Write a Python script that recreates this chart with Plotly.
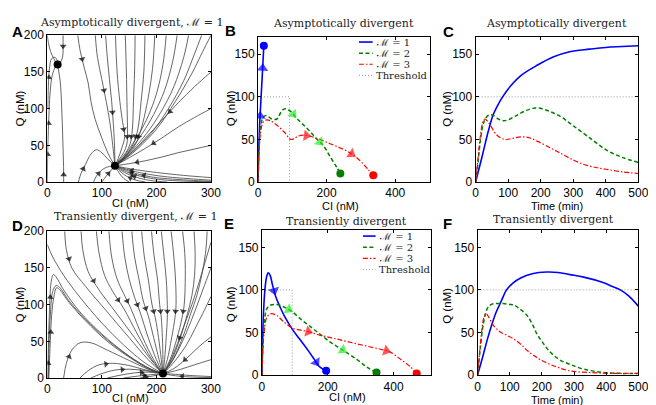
import plotly.graph_objects as go

W, H = 656, 405

# ---------------- data ----------------
# Panel A: phase portrait streamlines (CI, Q), arrows = segment indices
A_FIXED_CI = [19, 124]
A_FIXED_Q = [160, 22]
A_CURVES = [
    ([0, 0.5, 1, 2, 3, 5, 9, 15, 19], [0, 25, 50, 70, 90, 120, 145, 157, 160], [1, 3]),
    ([1, 2, 4, 8, 14, 18, 19], [100, 130, 155, 168, 170, 166, 160], [1]),
    ([29, 29, 29, 28, 24, 19], [200, 190, 180, 170, 163, 160], [1]),
    ([30, 30, 30, 29, 27, 24, 19], [0, 5, 15, 45, 90, 135, 160], [1]),
    ([0, 2, 6, 12, 19], [200, 190, 178, 168, 160], []),
    ([56, 60, 68, 75, 80, 88, 100, 112, 124], [200, 180, 155, 135, 110, 85, 60, 38, 22], [1]),
    ([88, 92, 100, 108, 115, 120, 124], [200, 170, 140, 110, 80, 50, 22], [2]),
    ([107, 110, 114, 118, 121, 123, 124], [200, 170, 140, 110, 80, 55, 22], [3]),
    ([125, 128, 133, 138, 142, 136, 130, 124], [200, 150, 110, 82, 62, 45, 32, 22], [3]),
    ([143, 145, 146, 147, 146, 140, 131, 124], [200, 150, 110, 72, 52, 40, 30, 22], [3]),
    ([161, 160, 158, 156, 152, 144, 133, 124], [200, 150, 110, 72, 52, 40, 30, 22], [3]),
    ([179, 177, 172, 166, 158, 148, 135, 124], [200, 150, 110, 72, 52, 40, 30, 22], [3]),
    ([197, 193, 185, 172, 162, 150, 136, 124], [200, 155, 115, 72, 52, 40, 30, 22], [3]),
    ([218, 212, 200, 185, 170, 152, 137, 124], [200, 160, 120, 90, 68, 47, 31, 22], []),
    ([238, 230, 215, 195, 175, 155, 138, 124], [200, 165, 125, 92, 67, 46, 31, 22], []),
    ([259, 250, 232, 208, 182, 158, 139, 124], [200, 170, 130, 95, 66, 45, 31, 22], []),
    ([283, 270, 250, 222, 190, 160, 140, 124], [200, 175, 138, 100, 66, 44, 31, 22], []),
    ([300, 285, 265, 235, 200, 165, 142, 124], [200, 178, 148, 110, 72, 45, 31, 22], []),
    ([300, 270, 240, 210, 180, 155, 124], [150, 130, 108, 84, 60, 40, 22], [2]),
    ([300, 270, 240, 210, 180, 150, 124], [100, 88, 75, 60, 46, 33, 22], [3]),
    ([300, 270, 240, 210, 180, 150, 124], [50, 45, 40, 34, 29, 25, 22], [4]),
    ([300, 260, 220, 190, 165, 145, 124], [0.3, 1, 2.5, 5, 9, 14, 22], [4]),
    ([300, 260, 220, 190, 165, 145, 124], [1, 2.5, 4.5, 7, 11, 16, 22], [3]),
    ([300, 260, 220, 190, 165, 145, 124], [2.5, 4.5, 7, 10, 13.5, 17.5, 22], [4]),
    ([300, 250, 200, 160, 124], [6, 9, 13, 17, 22], []),
    ([220, 190, 170, 150, 135, 124], [0, 2, 5, 10, 16, 22], [2]),
    ([180, 160, 145, 133, 124], [0, 3, 8, 15, 22], [1]),
    ([150, 140, 132, 124], [0, 5, 12, 22], []),
    ([57, 62, 70, 80, 90, 100, 110, 124], [0, 12, 24, 38, 44, 40, 32, 22], [1]),
    ([85, 90, 98, 108, 124], [0, 8, 15, 20, 22], [1]),
    ([100, 108, 116, 124], [0, 8, 15, 22], [1]),
]

# Panel D: phase portrait streamlines
D_FIXED_CI = [212]
D_FIXED_Q = [6]
D_CURVES = [
    ([32, 35, 45, 70, 110, 150, 185, 212], [200, 175, 150, 125, 90, 55, 25, 6], [1]),
    ([62, 65, 75, 95, 125, 160, 190, 212], [200, 175, 145, 120, 90, 55, 25, 6], [2]),
    ([90, 95, 105, 120, 140, 165, 192, 212], [200, 170, 140, 118, 95, 60, 25, 6], [3]),
    ([113, 118, 128, 140, 153, 175, 195, 212], [200, 165, 135, 115, 95, 55, 25, 6], [3]),
    ([137, 142, 150, 160, 170, 185, 200, 212], [200, 165, 135, 110, 90, 55, 25, 6], [3]),
    ([155, 160, 168, 176, 185, 195, 205, 212], [200, 165, 135, 105, 85, 55, 25, 6], [3]),
    ([173, 178, 185, 192, 198, 204, 209, 212], [200, 165, 135, 100, 82, 55, 25, 6], [3]),
    ([191, 196, 202, 206, 209, 211, 212, 212], [200, 165, 135, 100, 82, 55, 25, 6], [3]),
    ([209, 214, 218, 220, 220, 218, 215, 212], [200, 165, 135, 100, 82, 55, 25, 6], [3]),
    ([227, 232, 235, 236, 234, 228, 220, 212], [200, 165, 135, 100, 82, 55, 25, 6], [3]),
    ([248, 252, 253, 251, 247, 238, 225, 212], [200, 170, 140, 100, 82, 55, 25, 6], [3]),
    ([269, 271, 270, 265, 257, 244, 228, 212], [200, 170, 140, 112, 88, 55, 25, 6], []),
    ([293, 290, 283, 274, 263, 248, 230, 212], [200, 170, 140, 112, 88, 55, 25, 6], []),
    ([300, 290, 278, 265, 250, 235, 222, 212], [185, 160, 130, 100, 70, 40, 18, 6], [4]),
    ([300, 285, 270, 255, 240, 225, 212], [150, 120, 90, 62, 38, 18, 6], []),
    ([300, 285, 270, 255, 238, 222, 212], [111, 88, 66, 45, 27, 13, 6], []),
    ([300, 280, 260, 245, 230, 212], [56, 44, 30, 20, 12, 6], [2]),
    ([300, 270, 245, 225, 212], [25, 18, 12, 8, 6], []),
    ([300, 260, 235, 212], [0.5, 1.5, 3, 6], [1]),
    ([300, 260, 235, 212], [2, 3.5, 5, 6], []),
    ([0, 10, 30, 60, 100, 140, 180, 212], [182, 165, 140, 110, 75, 45, 20, 6], []),
    ([1, 2, 4, 7, 11, 16, 30, 60, 100, 150, 190, 212], [0, 40, 90, 130, 141, 138, 120, 90, 60, 30, 12, 6], [0, 2]),
    ([2, 3, 6, 10, 16, 22, 40, 70, 110, 155, 190, 212], [0, 40, 90, 118, 126, 124, 105, 80, 52, 27, 12, 6], []),
    ([3, 5, 8, 12, 17, 22, 40, 70, 110, 155, 190, 212], [0, 40, 85, 110, 123, 121, 103, 78, 50, 26, 11, 6], [1]),
    ([30, 35, 45, 60, 80, 110, 150, 185, 212], [0, 20, 38, 48, 48, 38, 24, 12, 6], [1]),
    ([60, 75, 95, 120, 150, 180, 212], [0, 10, 18, 20, 17, 11, 6], [2]),
    ([80, 100, 125, 150, 180, 212], [0, 6, 11, 12, 10, 6], [2]),
    ([110, 135, 160, 185, 212], [0, 4, 7, 8, 6], [2]),
    ([140, 165, 190, 212], [0, 2.5, 4.5, 6], [1]),
    ([170, 192, 212], [0, 2.5, 6], [0]),
]

# Panel B: trajectories in (CI, Q)
B_M1_CI = [0, 2, 5, 7, 9, 12, 15, 17]
B_M1_Q = [0, 35, 70, 85, 100, 122, 145, 160]
B_M1_ARROWS = [2, 5]
B_M2_CI = [0, 3, 8, 15, 25, 40, 55, 70, 80, 95, 110, 130, 150, 170, 190, 210, 230, 240]
B_M2_Q = [0, 40, 65, 76, 78, 74, 74, 84, 86, 83, 76, 68, 60, 51, 43, 30, 17, 10]
B_M2_ARROWS = [9, 13]
B_M3_CI = [0, 3, 8, 15, 25, 40, 60, 80, 95, 105, 118, 132, 150, 180, 210, 240, 265, 280, 300, 320, 336]
B_M3_Q = [0, 35, 60, 70, 73, 71, 65, 57, 50, 51, 54, 55, 54, 50, 45, 40, 35, 31, 24, 15, 8]
B_M3_ARROWS = [11, 16]

# Panel E
E_M1_CI = [0, 2, 5, 9, 14, 19, 25, 32, 42, 55, 70, 92, 115, 140, 158, 172, 185, 195]
E_M1_Q = [0, 40, 75, 100, 115, 120, 117, 106, 92, 80, 68, 54, 42, 29, 19, 11, 7, 5]
E_M1_ARROWS = [7, 14]
E_M2_CI = [0, 3, 8, 15, 25, 37, 55, 72, 90, 120, 150, 180, 210, 235, 255, 290, 320, 348]
E_M2_Q = [0, 35, 65, 78, 82, 83, 82, 79, 75, 65, 56, 47, 38, 32, 27, 18, 9, 3]
E_M2_ARROWS = [7, 13]
E_M3_CI = [0, 3, 8, 15, 27, 45, 65, 94, 115, 131, 150, 175, 220, 274, 330, 365, 390, 423, 450, 470]
E_M3_Q = [0, 30, 55, 68, 72, 70, 63, 55, 53, 52, 50, 47, 43, 38, 33, 30, 27, 18, 10, 2]
E_M3_ARROWS = [9, 15]

THRESH_CI = 92
THRESH_Q = 100

# Panel C: time courses
C_M1_T = [0, 10, 20, 30, 40, 53, 65, 83, 108, 139, 189, 240, 289, 350, 400, 450, 500]
C_M1_Q = [0, 15, 30, 46, 61, 78, 88, 100, 113, 125, 137, 147, 153, 156, 158, 159, 160]
C_M2_T = [0, 8, 15, 25, 35, 45, 55, 70, 85, 100, 125, 150, 184, 220, 260, 300, 350, 400, 450, 500]
C_M2_Q = [0, 25, 50, 70, 77, 79, 78, 74, 72, 73, 78, 83, 87, 84, 77, 66, 52, 38, 29, 23]
C_M3_T = [0, 8, 15, 22, 28, 35, 45, 63, 88, 110, 139, 165, 189, 230, 260, 289, 330, 370, 400, 450, 500]
C_M3_Q = [0, 30, 55, 70, 74, 72, 67, 56, 50, 51, 53, 52, 48, 40, 34, 28, 21, 17, 15, 12, 10]

# Panel F
F_M1_T = [0, 15, 32, 45, 58, 75, 90, 110, 134, 170, 215, 250, 287, 330, 388, 420, 444, 470, 500]
F_M1_Q = [0, 20, 44, 60, 74, 88, 100, 108, 114, 119, 121, 120.5, 118, 115, 109, 104, 100, 93, 81]
F_M2_T = [0, 8, 18, 30, 43, 60, 80, 100, 114, 130, 154, 170, 185, 205, 226, 255, 287, 330, 388, 450, 500]
F_M2_Q = [0, 30, 60, 78, 83, 84, 84, 83, 82, 78, 70, 60, 48, 37, 27, 18, 12.6, 7, 3.3, 2, 2]
F_M3_T = [0, 6, 14, 20, 27, 35, 48, 60, 73, 95, 114, 135, 154, 175, 195, 236, 287, 350, 420, 500]
F_M3_Q = [0, 25, 55, 68, 72, 68, 59, 54, 50, 46, 42, 36, 29, 23, 18, 11, 5, 3, 2, 2]

LEGEND_LABELS = ["ℳ = 1", "ℳ = 2", "ℳ = 3", "Threshold"]

# ---------------- style ----------------
BLUE, GREEN, RED = "#0000ff", "#008000", "#ff0000"
ARROW_COL = {"b": "#0000ff", "g": "#22ee22", "r": "#ff1010"}
DASH_G = "4px,2.5px"
DASH_R = "5px,2px,1.5px,2px"
DOT = "1px,2px"
GRAYLINE = "#404040"
SANS = "Liberation Sans, Arial, sans-serif"
SERIF = "DejaVu Serif, Liberation Serif, serif"

# panel boxes in pixels: (x0, x1), (y0, y1) top-down
BOX = {
    "A": ((37, 204), (21, 173)),
    "B": ((252, 427), (23, 173)),
    "C": ((474, 640), (23, 173)),
    "D": ((37, 204), (224, 376)),
    "E": ((256, 429), (223, 373)),
    "F": ((476, 640), (223, 373)),
}
AX = {"A": "", "B": "2", "C": "3", "D": "4", "E": "5", "F": "6"}


def px(x):
    return x / W


def py(y):
    return 1 - y / H


fig = go.Figure()


def add_line(panel, xs, ys, color, width, dash="solid", shape="spline"):
    n = AX[panel]
    fig.add_trace(go.Scatter(x=xs, y=ys, mode="lines", xaxis="x" + n, yaxis="y" + n,
                             line=dict(color=color, width=width, dash=dash, shape=shape, smoothing=1),
                             hoverinfo="skip", showlegend=False))


def add_arrows(panel, segs_list, color, size):
    n = AX[panel]
    xs, ys, ss = [], [], []
    for cx, cy, segs in segs_list:
        for k in segs:
            xs += [cx[k], (cx[k] + cx[k + 1]) / 2]
            ys += [cy[k], (cy[k] + cy[k + 1]) / 2]
            ss += [0, size]
    if xs:
        fig.add_trace(go.Scatter(x=xs, y=ys, mode="markers", xaxis="x" + n, yaxis="y" + n,
                                 marker=dict(symbol="triangle-up", size=ss, color=color,
                                             angleref="previous", line=dict(width=0)),
                                 hoverinfo="skip", showlegend=False))


def add_dots(panel, xs, ys, color, size):
    n = AX[panel]
    fig.add_trace(go.Scatter(x=xs, y=ys, mode="markers", xaxis="x" + n, yaxis="y" + n,
                             marker=dict(symbol="circle", size=size, color=color, line=dict(width=0)),
                             hoverinfo="skip", showlegend=False))


# phase portraits
for panel, curves, fx, fy in (("A", A_CURVES, A_FIXED_CI, A_FIXED_Q), ("D", D_CURVES, D_FIXED_CI, D_FIXED_Q)):
    for cx, cy, _ in curves:
        add_line(panel, cx, cy, GRAYLINE, 0.8)
    add_arrows(panel, curves, "black", 6)
    add_dots(panel, fx, fy, "black", 8)

# trajectories B and E
for panel, data in (
    ("B", [(B_M1_CI, B_M1_Q, B_M1_ARROWS), (B_M2_CI, B_M2_Q, B_M2_ARROWS), (B_M3_CI, B_M3_Q, B_M3_ARROWS)]),
    ("E", [(E_M1_CI, E_M1_Q, E_M1_ARROWS), (E_M2_CI, E_M2_Q, E_M2_ARROWS), (E_M3_CI, E_M3_Q, E_M3_ARROWS)]),
):
    add_line(panel, [0, THRESH_CI, THRESH_CI], [THRESH_Q, THRESH_Q, 0], "#999999", 1, DOT, "linear")
    (x1, y1, a1), (x2, y2, a2), (x3, y3, a3) = data
    add_line(panel, x1, y1, BLUE, 1.6)
    add_line(panel, x2, y2, GREEN, 1.5, DASH_G)
    add_line(panel, x3, y3, RED, 1.2, DASH_R)
    add_arrows(panel, [(x1, y1, a1)], ARROW_COL["b"], 10)
    add_arrows(panel, [(x2, y2, a2)], ARROW_COL["g"], 10)
    add_arrows(panel, [(x3, y3, a3)], ARROW_COL["r"], 10)
    add_dots(panel, [x1[-1]], [y1[-1]], BLUE, 8)
    add_dots(panel, [x2[-1]], [y2[-1]], GREEN, 8)
    add_dots(panel, [x3[-1]], [y3[-1]], RED, 8)

# time courses C and F
for panel, (t1, q1), (t2, q2), (t3, q3) in (
    ("C", (C_M1_T, C_M1_Q), (C_M2_T, C_M2_Q), (C_M3_T, C_M3_Q)),
    ("F", (F_M1_T, F_M1_Q), (F_M2_T, F_M2_Q), (F_M3_T, F_M3_Q)),
):
    add_line(panel, [0, 500], [THRESH_Q, THRESH_Q], "#999999", 1, DOT, "linear")
    add_line(panel, t1, q1, BLUE, 1.6)
    add_line(panel, t2, q2, GREEN, 1.5, DASH_G)
    add_line(panel, t3, q3, RED, 1.2, DASH_R)

# ---------------- axes ----------------
RANGES = {
    "A": ([0, 300], [0, 200], [0, 100, 200, 300], [0, 50, 100, 150, 200], "CI (nM)"),
    "B": ([0, 500], [0, 170], [0, 200, 400], [0, 50, 100, 150], "CI (nM)"),
    "C": ([0, 500], [0, 170], [0, 100, 200, 300, 400, 500], [0, 50, 100, 150], "Time (min)"),
    "D": ([0, 300], [0, 200], [0, 100, 200, 300], [0, 50, 100, 150, 200], "CI (nM)"),
    "E": ([0, 515], [0, 170], [0, 200, 400], [0, 50, 100, 150], "CI (nM)"),
    "F": ([0, 500], [0, 170], [0, 100, 200, 300, 400, 500], [0, 50, 100, 150], "Time (min)"),
}
# axis-title positions in pixels: (x-title x, y), (y-title x, y)
AXTITLE_POS = {
    "A": ((122, 195), (9, 97)),
    "B": ((336, 198), (224, 97)),
    "C": ((557, 198), (444, 97)),
    "D": ((122, 397), (9, 300)),
    "E": ((343, 396), (224, 300)),
    "F": ((557, 398.5), (444, 301)),
}
layout = {}
ann = []
for p, ((x0, x1), (y0, y1)) in BOX.items():
    n = AX[p]
    xr, yr, xt, yt, xtitle = RANGES[p]
    common = dict(showline=True, linecolor="black", linewidth=1, mirror="ticks", ticks="inside",
                  ticklen=3, tickcolor="black", showgrid=False, zeroline=False,
                  tickfont=dict(family=SANS, size=12, color="black"))
    layout["xaxis" + n] = dict(domain=[px(x0), px(x1)], range=xr, tickvals=xt, anchor="y" + n, **common)
    layout["yaxis" + n] = dict(domain=[py(y1), py(y0)], range=yr, tickvals=yt, anchor="x" + n, **common)
    (xtx, xty), (ytx, yty) = AXTITLE_POS[p]
    ann.append(dict(x=px(xtx), y=py(xty), xref="paper", yref="paper", text=xtitle, showarrow=False,
                    borderpad=0, font=dict(family=SANS, size=11, color="black"),
                    xanchor="center", yanchor="middle"))
    ann.append(dict(x=px(ytx), y=py(yty), xref="paper", yref="paper", text="Q (nM)", showarrow=False,
                    borderpad=0, textangle=-90, font=dict(family=SANS, size=11.5, color="black"),
                    xanchor="center", yanchor="middle"))

# ---------------- annotations ----------------
TITLES = [
    (123, 8, "Asymptotically divergent, ℳ = 1"),
    (339, 9, "Asymptotically divergent"),
    (557, 9, "Asymptotically divergent"),
    (127, 209, "Transiently divergent, ℳ = 1"),
    (342, 213.5, "Transiently divergent"),
    (553, 212, "Transiently divergent"),
]
for x, y, t in TITLES:
    ann.append(dict(x=px(x), y=py(y), xref="paper", yref="paper", text=t, showarrow=False,
                    borderpad=0, font=dict(family=SERIF, size=11, color="#222222"),
                    xanchor="center", yanchor="middle"))
LETTERS = [(7, 17, "A"), (224, 16, "B"), (446, 17, "C"), (7, 218, "D"), (222, 216, "E"), (445, 216, "F")]
for x, y, t in LETTERS:
    ann.append(dict(x=px(x), y=py(y), xref="paper", yref="paper", text="<b>%s</b>" % t, showarrow=False,
                    font=dict(family=SANS, size=15, color="black"), xanchor="center", yanchor="middle"))

# legends (B and E)
shapes = []
LEG_STYLE = [(BLUE, "solid", 1.6), (GREEN, DASH_G, 1.5), (RED, DASH_R, 1.2), ("#999999", DOT, 1)]
for (lx0, lx1, tx, ys) in ((355, 369, 371, [28, 39.5, 51, 62.5]), (359, 372, 374, [229, 240.5, 252, 263.5])):
    for (col, dash, w), label, yy in zip(LEG_STYLE, LEGEND_LABELS, ys):
        shapes.append(dict(type="line", xref="paper", yref="paper", x0=px(lx0), x1=px(lx1),
                           y0=py(yy), y1=py(yy), line=dict(color=col, width=w, dash=dash)))
        ann.append(dict(x=px(tx), y=py(yy), xref="paper", yref="paper", text=label, showarrow=False,
                        borderpad=0, font=dict(family=SERIF, size=10, color="#222222"),
                        xanchor="left", yanchor="middle"))

fig.update_layout(
    width=W, height=H, margin=dict(l=0, r=0, t=0, b=0),
    paper_bgcolor="white", plot_bgcolor="white",
    annotations=ann, shapes=shapes, showlegend=False,
    **layout,
)

fig.write_html("out.html")
